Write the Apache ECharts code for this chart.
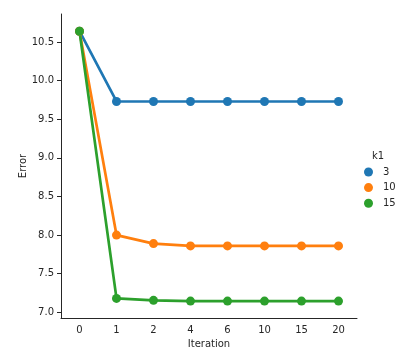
<!DOCTYPE html>
<html lang="en">
  <head>
    <meta charset="UTF-8" />
    <script src="https://cdn.jsdelivr.net/npm/echarts@6/dist/echarts.min.js"></script>
    <style>
      html,
      body {
        margin: 0;
        overflow: hidden;
        background: #fff;
      }
      #viewport {
        width: 408px;
        height: 360px;
      }
    </style>
  </head>
  <body>
    <div id="viewport"></div>
    <script>
      var iterations = ['0', '1', '2', '4', '6', '10', '15', '20'];
      var k1Names = ['3', '10', '15'];
      var errK3 = [10.64, 9.73, 9.73, 9.73, 9.73, 9.73, 9.73, 9.73];
      var errK10 = [10.64, 8.0, 7.89, 7.86, 7.86, 7.86, 7.86, 7.86];
      var errK15 = [10.64, 7.18, 7.155, 7.145, 7.145, 7.145, 7.145, 7.145];
      var yTicks = [7.0, 7.5, 8.0, 8.5, 9.0, 9.5, 10.0, 10.5];
      var colors = ['#1f77b4', '#ff7f0e', '#2ca02c'];

      var font = 'DejaVu Sans';
      var textColor = '#262626';

      function makeSeries(name, data, color) {
        return {
          name: name,
          type: 'line',
          data: data,
          symbol: 'circle',
          symbolSize: 9,
          lineStyle: { width: 2.7, color: color },
          itemStyle: { color: color },
          emphasis: { disabled: true },
          animation: false
        };
      }

      var myChart = echarts.init(document.getElementById('viewport'));
      var option = {
        animation: false,
        textStyle: { fontFamily: font },
        title: {
          text: 'k1',
          left: 372,
          top: 151,
          padding: 0,
          textStyle: { fontFamily: font, fontSize: 10, fontWeight: 'normal', color: textColor }
        },
        legend: {
          orient: 'vertical',
          left: 364,
          top: 167,
          padding: 0,
          itemWidth: 9,
          itemHeight: 9,
          itemGap: 5.6,
          icon: 'circle',
          data: k1Names,
          textStyle: { fontFamily: font, fontSize: 10, color: textColor, padding: [0, 0, 0, 5] }
        },
        grid: { left: 61, right: 51, top: 14, bottom: 42 },
        xAxis: {
          type: 'category',
          data: iterations,
          boundaryGap: true,
          name: 'Iteration',
          nameLocation: 'middle',
          nameGap: 21,
          nameMoveOverlap: false,
          nameTextStyle: { fontFamily: font, fontSize: 10, color: textColor },
          axisLine: { lineStyle: { color: '#262626', width: 1 } },
          axisTick: { alignWithLabel: true, length: 4, lineStyle: { color: '#262626' } },
          axisLabel: { fontFamily: font, fontSize: 10, color: textColor, margin: 7 },
          splitLine: { show: false }
        },
        yAxis: {
          type: 'value',
          min: 6.926,
          max: 10.863,
          name: 'Error',
          nameLocation: 'middle',
          nameGap: 33,
          nameMoveOverlap: false,
          nameTextStyle: { fontFamily: font, fontSize: 10, color: textColor },
          axisLine: { show: true, lineStyle: { color: '#262626', width: 1 } },
          axisTick: { show: true, length: 4, customValues: yTicks, lineStyle: { color: '#262626' } },
          axisLabel: {
            fontFamily: font,
            fontSize: 10,
            color: textColor,
            margin: 7,
            customValues: yTicks,
            formatter: function (v) { return v.toFixed(1); }
          },
          splitLine: { show: false }
        },
        series: [
          makeSeries(k1Names[0], errK3, colors[0]),
          makeSeries(k1Names[1], errK10, colors[1]),
          makeSeries(k1Names[2], errK15, colors[2])
        ]
      };
      myChart.setOption(option);
    </script>
  </body>
</html>
